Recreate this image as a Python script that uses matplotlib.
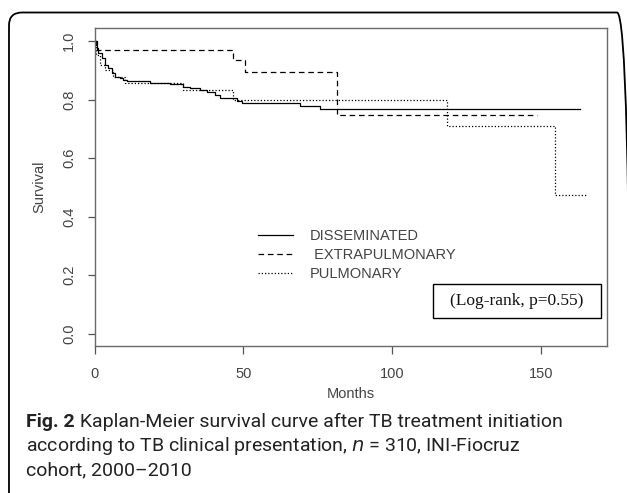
import matplotlib
matplotlib.use("Agg")
import matplotlib.pyplot as plt
from matplotlib.patches import FancyBboxPatch, Rectangle
from matplotlib.transforms import IdentityTransform

# Kaplan-Meier step data (months, survival)
dissem_t = [0, 0.3, 0.7, 1.2, 2.4, 3.5, 4.6, 5.7, 6.8, 8.5, 9.6, 10.8, 18.6, 25.3,
            29.8, 32.0, 35.4, 37.7, 40.5, 42.1, 47.8, 49.4, 69.0, 75.8, 163.3]
dissem_s = [1.0, 0.985, 0.975, 0.958, 0.941, 0.918, 0.907, 0.89, 0.878, 0.872, 0.867,
            0.863, 0.855, 0.852, 0.844, 0.838, 0.833, 0.827, 0.815, 0.804, 0.795,
            0.787, 0.778, 0.767, 0.767]

extra_t = [0, 0.8, 46.6, 50.6, 81.4, 148.7]
extra_s = [1.0, 0.969, 0.934, 0.895, 0.747, 0.747]

pulm_t = [0, 0.5, 1.8, 3.5, 6.0, 10.2, 29.8, 46.6, 118.4, 154.8, 165.3]
pulm_s = [1.0, 0.952, 0.918, 0.90, 0.878, 0.855, 0.833, 0.80, 0.71, 0.474, 0.474]

labels = ["DISSEMINATED", " EXTRAPULMONARY", "PULMONARY"]
x_ticks = [0, 50, 100, 150]
y_ticks = [0.0, 0.2, 0.4, 0.6, 0.8, 1.0]

plt.rcParams['font.family'] = ['Liberation Sans', 'DejaVu Sans']
txt = '#444444'
fs = 10.5

fig = plt.figure(figsize=(6.27, 4.93), dpi=100)
ax = fig.add_axes([94.7 / 627, 147.3 / 493, 512 / 627, 317.4 / 493])

ax.step(dissem_t, dissem_s, where='post', color='black', lw=0.9, label=labels[0])
ax.step(extra_t, extra_s, where='post', color='black', lw=0.9, dashes=(4.5, 3), label=labels[1])
ax.step(pulm_t, pulm_s, where='post', color='black', lw=0.9, dashes=(1, 1.6), label=labels[2])

ax.set_xlim(0, 172.2)
ax.set_ylim(-0.041, 1.0434)
ax.set_xticks(x_ticks)
ax.set_xticklabels([str(v) for v in x_ticks])
ax.set_yticks(y_ticks)
ax.set_yticklabels([f"{v:.1f}" for v in y_ticks], rotation=90, va='center')
for sp in ax.spines.values():
    sp.set_color('#6a6a6a')
    sp.set_linewidth(1.0)
ax.tick_params(direction='out', length=5.4, width=0.9, color='#555555',
               labelsize=fs, labelcolor=txt)
ax.tick_params(axis='x', pad=10)
ax.tick_params(axis='y', pad=8)
ax.set_xlabel("Months", fontsize=fs, color=txt, labelpad=4)
ax.set_ylabel("Survival", fontsize=fs, color=txt, labelpad=11)

ax.legend(loc='upper left', bbox_to_anchor=(0.318, 0.368), frameon=False,
          fontsize=fs, labelcolor=txt, handlelength=2.4, handletextpad=1.2,
          labelspacing=0.34, borderpad=0, borderaxespad=0)

# log-rank box
ax.add_patch(Rectangle((0.660, 0.0863), 0.328, 0.1071, transform=ax.transAxes,
                       fill=False, edgecolor='black', lw=1.0))
ax.text(0.824, 0.140, "(Log-rank, p=0.55)", transform=ax.transAxes, ha='center',
        va='center', fontsize=12.5, family='Liberation Serif', color='#111111')

# rounded outer frame (pixel coordinates)
frame = FancyBboxPatch((9, -20), 621, 500.5, boxstyle="round,pad=0,rounding_size=13",
                       transform=IdentityTransform(), fill=False, edgecolor='black',
                       lw=1.3, clip_on=False)
fig.patches.append(frame)

# caption
cap_fs = 14
cap_col = '#222222'
bold = fig.text(26 / 627, 1 - 422 / 493, "Fig. 2", fontsize=cap_fs, va='center',
                family='Roboto', fontweight='bold', color=cap_col)
ann = plt.annotate(" Kaplan-Meier survival curve after TB treatment initiation",
                   xy=(1, 0.5), xycoords=bold, va='center', fontsize=cap_fs,
                   family='Roboto', color=cap_col, annotation_clip=False)
fig.text(26 / 627, 1 - 446 / 493,
         "according to TB clinical presentation, $\\it{n}$ = 310, INI-Fiocruz",
         fontsize=cap_fs, va='center', family='Roboto', color=cap_col)
fig.text(26 / 627, 1 - 470 / 493, "cohort, 2000\u20132010",
         fontsize=cap_fs, va='center', family='Roboto', color=cap_col)

fig.savefig("out.png", dpi=100)
